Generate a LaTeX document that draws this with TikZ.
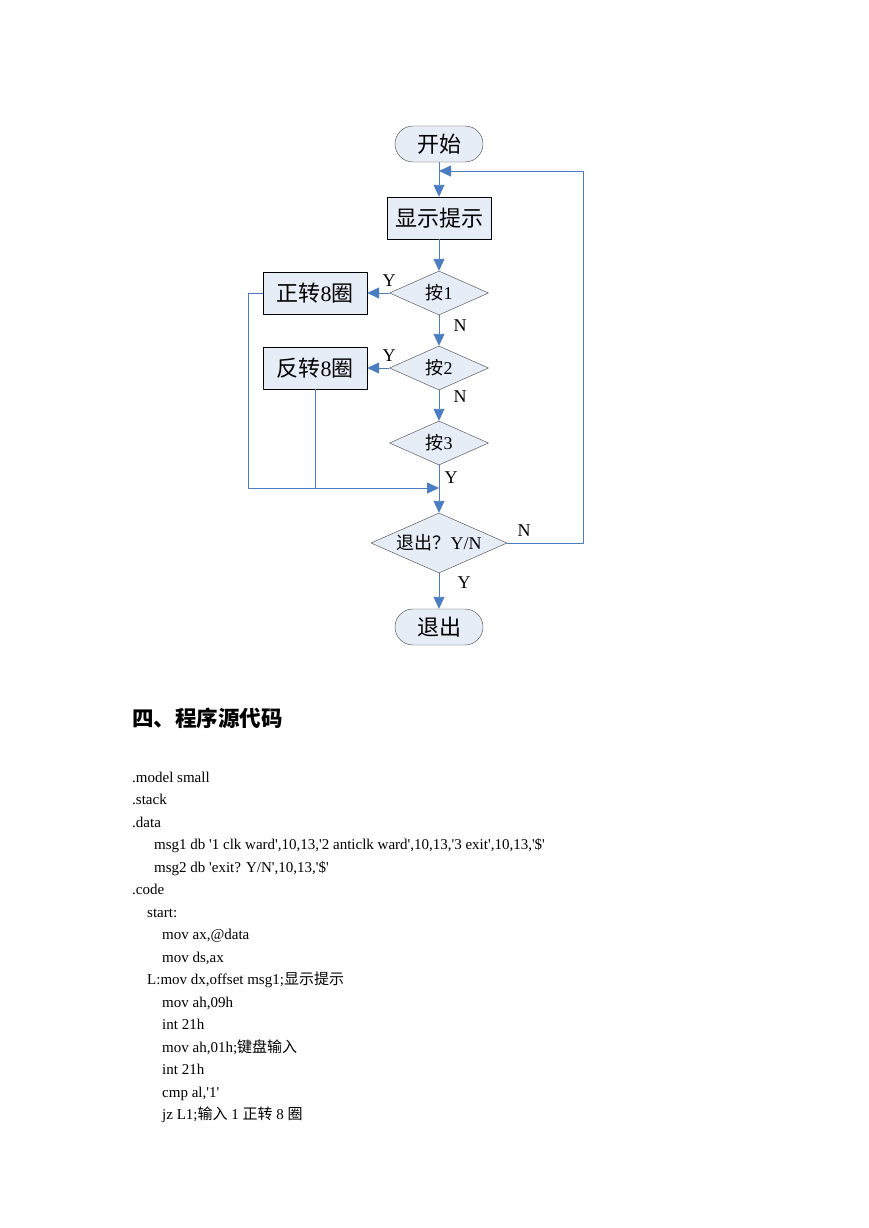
\documentclass[tikz,border=0pt]{standalone}
\usepackage{fontspec}
\setmainfont{Liberation Serif}
\newfontfamily\cjk{Noto Sans CJK SC}
\newfontfamily\codefont{Liberation Serif}[Ligatures=TeXOff]
\usetikzlibrary{shapes.geometric,arrows.meta}
\definecolor{flowblue}{RGB}{74,126,193}
\definecolor{boxfill}{RGB}{231,237,247}
\begin{document}
\begin{tikzpicture}[x=1pt,y=-1pt,>={Triangle[length=12pt,width=11pt]},line join=round,
  term/.style={draw=black!75,fill=boxfill,rounded corners=18pt,minimum width=88pt,minimum height=36pt,inner sep=0pt,font=\fontsize{22}{24}\selectfont\cjk},
  proc/.style={draw=black,fill=boxfill,minimum width=104pt,minimum height=42pt,inner sep=0pt,font=\fontsize{22}{24}\selectfont},
  dec/.style={diamond,aspect=2.25,draw=black!75,fill=boxfill,inner sep=0pt,minimum width=99pt,minimum height=44pt,font=\fontsize{18}{20}\selectfont},
  flow/.style={draw=flowblue,line width=0.9pt},
  lbl/.style={inner sep=1pt,font=\fontsize{18}{20}\selectfont},
  code/.style={anchor=base west,inner sep=0pt,font=\fontsize{15}{18}\selectfont\codefont}]
\useasboundingbox[fill=white] (0,0) rectangle (869,1228);
% flowchart
\node[term] (start) at (439,144) {开始};
\node[proc] (show) at (439,218) {\cjk 显示提示};
\node[dec] (k1) at (439,293) {{\cjk 按}1};
\node[proc] (cw) at (315,293) {{\cjk 正转}8{\cjk 圈}};
\node[dec] (k2) at (439,368) {{\cjk 按}2};
\node[proc] (ccw) at (315,368) {{\cjk 反转}8{\cjk 圈}};
\node[dec] (k3) at (439,443) {{\cjk 按}3};
\node[dec,minimum width=136pt,minimum height=60pt] (quit) at (439,543) {{\cjk 退出？}Y/N};
\node[term] (stop) at (439,627) {退出};
\coordinate (back) at (439,171);
\coordinate (corner) at (583,171);
\coordinate (merge) at (439,488);
\draw[flow,->] (start) -- (show);
\draw[flow,->] (show) -- (k1);
\draw[flow,->] (k1) -- (cw);
\draw[flow,->] (k1) -- (k2);
\draw[flow,->] (k2) -- (ccw);
\draw[flow,->] (k2) -- (k3);
\draw[flow,->] (k3) -- (quit);
\draw[flow,->] (cw.west) -- ++(-14,0) |- (merge);
\draw[flow] (ccw.south) -- (ccw.south |- merge);
\draw[flow,->] (quit) -- (stop);
\draw[flow,->] (quit.east) -| (corner) -- (back);
\node[lbl,fill=white] (y1) at (389,281) {Y};
\node[lbl] (n1) at (460,326) {N};
\node[lbl,fill=white] (y2) at (389,356) {Y};
\node[lbl] (n2) at (460,397) {N};
\node[lbl] (y3) at (451,478) {Y};
\node[lbl] (n3) at (524,531) {N};
\node[lbl] (y4) at (464,583) {Y};
% source code
\node[anchor=base west,inner sep=0pt,font=\fontsize{21.5}{24}\selectfont\cjk\bfseries] (title) at (132,726) {四、程序源代码};
\node[code] (c1) at (132,782) {.model small};
\node[code] (c2) at (132,804.5) {.stack};
\node[code] (c3) at (132,827) {.data};
\node[code] (c4) at (154,849.5) {msg1 db '1 clk ward',10,13,'2 anticlk ward',10,13,'3 exit',10,13,'\$'};
\node[code] (c5) at (154,872) {msg2 db 'exit? Y/N',10,13,'\$'};
\node[code] (c6) at (132,894.5) {.code};
\node[code] (c7) at (147,917) {start:};
\node[code] (c8) at (162,939.5) {mov ax,@data};
\node[code] (c9) at (162,962) {mov ds,ax};
\node[code] (c10) at (147,984.5) {L:mov dx,offset msg1;{\cjk 显示提示}};
\node[code] (c11) at (162,1007) {mov ah,09h};
\node[code] (c12) at (162,1029.5) {int 21h};
\node[code] (c13) at (162,1052) {mov ah,01h;{\cjk 键盘输入}};
\node[code] (c14) at (162,1074.5) {int 21h};
\node[code] (c15) at (162,1097) {cmp al,'1'};
\node[code] (c16) at (162,1119.5) {jz L1;{\cjk 输入} 1 {\cjk 正转} 8 {\cjk 圈}};
\end{tikzpicture}
\end{document}
